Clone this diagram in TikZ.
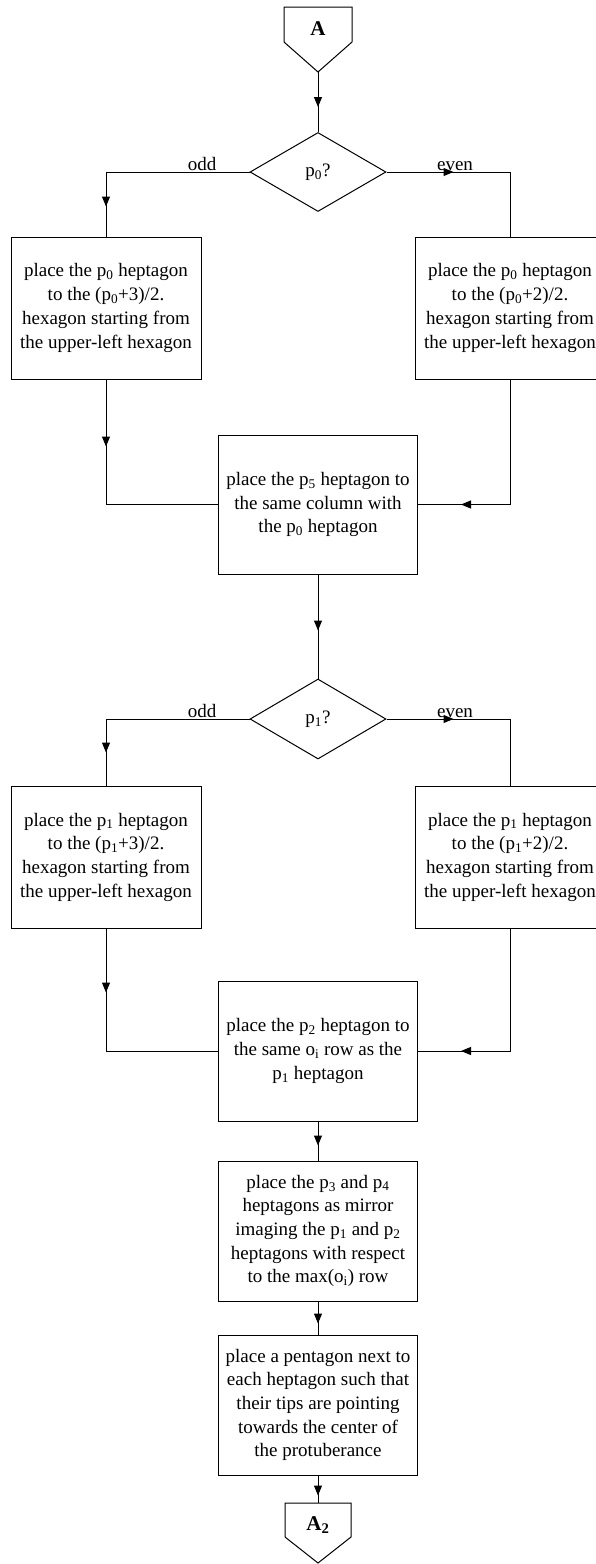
\documentclass[tikz,border=0pt]{standalone}
\usepackage{fontspec}
\setmainfont{Liberation Serif}
\usetikzlibrary{shapes.geometric,arrows.meta,decorations.markings}

\tikzset{
  every node/.style={font=\fontsize{19pt}{23.7pt}\selectfont},
  flowline/.style={line width=1pt},
  procbox/.style={draw, line width=1pt, align=center, inner sep=0pt,
                  minimum width=199pt, minimum height=140pt},
  sidebox/.style={procbox, minimum width=190pt, minimum height=142pt},
  decision/.style={diamond, draw, line width=1pt, aspect=1.72, inner sep=0pt,
                   minimum width=136pt, minimum height=79pt},
  connlabel/.style={font=\fontsize{21pt}{24pt}\selectfont\bfseries},
  branchlabel/.style={anchor=base, inner sep=0pt},
  arrowat/.style={flowline, postaction={decorate},
    decoration={markings, mark=at position #1 with
      {\arrow{Triangle[width=8pt,length=10pt]}}}}
}

\begin{document}
\begin{tikzpicture}[x=1pt,y=-1pt]
\clip (0,0) rectangle (596,1564);

% off-page connector at the top
\draw[flowline] (284,7) -- (352,7) -- (352,42) -- (318,72) -- (284,42) -- cycle;
\coordinate (Atip) at (318,72);
\node[connlabel] (A) at (318,29) {A};

% first decision and its branches
\node[decision] (d0) at (318,172) {p\textsubscript{0}?};
\node[sidebox] (l0) at (106,308) {place the p\textsubscript{0} heptagon\\
  to the (p\textsubscript{0}+3)/2.\\hexagon starting from\\the upper-left hexagon};
\node[sidebox] (r0) at (510,308) {place the p\textsubscript{0} heptagon\\
  to the (p\textsubscript{0}+2)/2.\\hexagon starting from\\the upper-left hexagon};
\node[procbox, minimum height=139pt] (p5) at (318,504.5) {place the p\textsubscript{5} heptagon to\\
  the same column with\\the p\textsubscript{0} heptagon};

% second decision and its branches
\node[decision, minimum height=80pt] (d1) at (318,719) {p\textsubscript{1}?};
\node[sidebox] (l1) at (106,857) {place the p\textsubscript{1} heptagon\\
  to the (p\textsubscript{1}+3)/2.\\hexagon starting from\\the upper-left hexagon};
\node[sidebox] (r1) at (510,857) {place the p\textsubscript{1} heptagon\\
  to the (p\textsubscript{1}+2)/2.\\hexagon starting from\\the upper-left hexagon};
\node[procbox] (p2) at (318,1051) {place the p\textsubscript{2} heptagon to\\
  the same o\textsubscript{i} row as the\\p\textsubscript{1} heptagon};
\node[procbox] (p3) at (318,1231) {place the p\textsubscript{3} and p\textsubscript{4}\\
  heptagons as mirror\\imaging the p\textsubscript{1} and p\textsubscript{2}\\
  heptagons with respect\\to the max(o\textsubscript{i}) row};
\node[procbox] (p4) at (318,1405) {place a pentagon next to\\
  each heptagon such that\\their tips are pointing\\towards the center of\\the protuberance};

% off-page connector at the bottom
\draw[flowline] (285,1503) -- (351,1503) -- (351,1537) -- (318,1563) -- (285,1537) -- cycle;
\coordinate (A2top) at (318,1503);
\node[connlabel] (A2) at (318,1525) {A\textsubscript{2}};

% connectors
\draw[arrowat=35pt] (Atip) -- (d0.north);
\draw[arrowat=-30pt] (d0.west) -| (l0.north);
\draw[arrowat=67pt] (d0.east) -| (r0.north);
\draw[arrowat=67pt] (l0.south) |- (p5.west);
\draw[arrowat=-43pt] (r0.south) |- (p5.east);
\draw[arrowat=56pt] (p5.south) -- (d1.north);
\draw[arrowat=-33pt] (d1.west) -| (l1.north);
\draw[arrowat=67pt] (d1.east) -| (r1.north);
\draw[arrowat=64pt] (l1.south) |- (p2.west);
\draw[arrowat=-43pt] (r1.south) |- (p2.east);
\draw[arrowat=24pt] (p2.south) -- (p3.north);
\draw[arrowat=22pt] (p3.south) -- (p4.north);
\draw[arrowat=20pt] (p4.south) -- (A2top);

% branch labels
\node[branchlabel] (odd0) at (202,170) {odd};
\node[branchlabel] (even0) at (455,170) {even};
\node[branchlabel] (odd1) at (202,717) {odd};
\node[branchlabel] (even1) at (455,717) {even};
\end{tikzpicture}
\end{document}
